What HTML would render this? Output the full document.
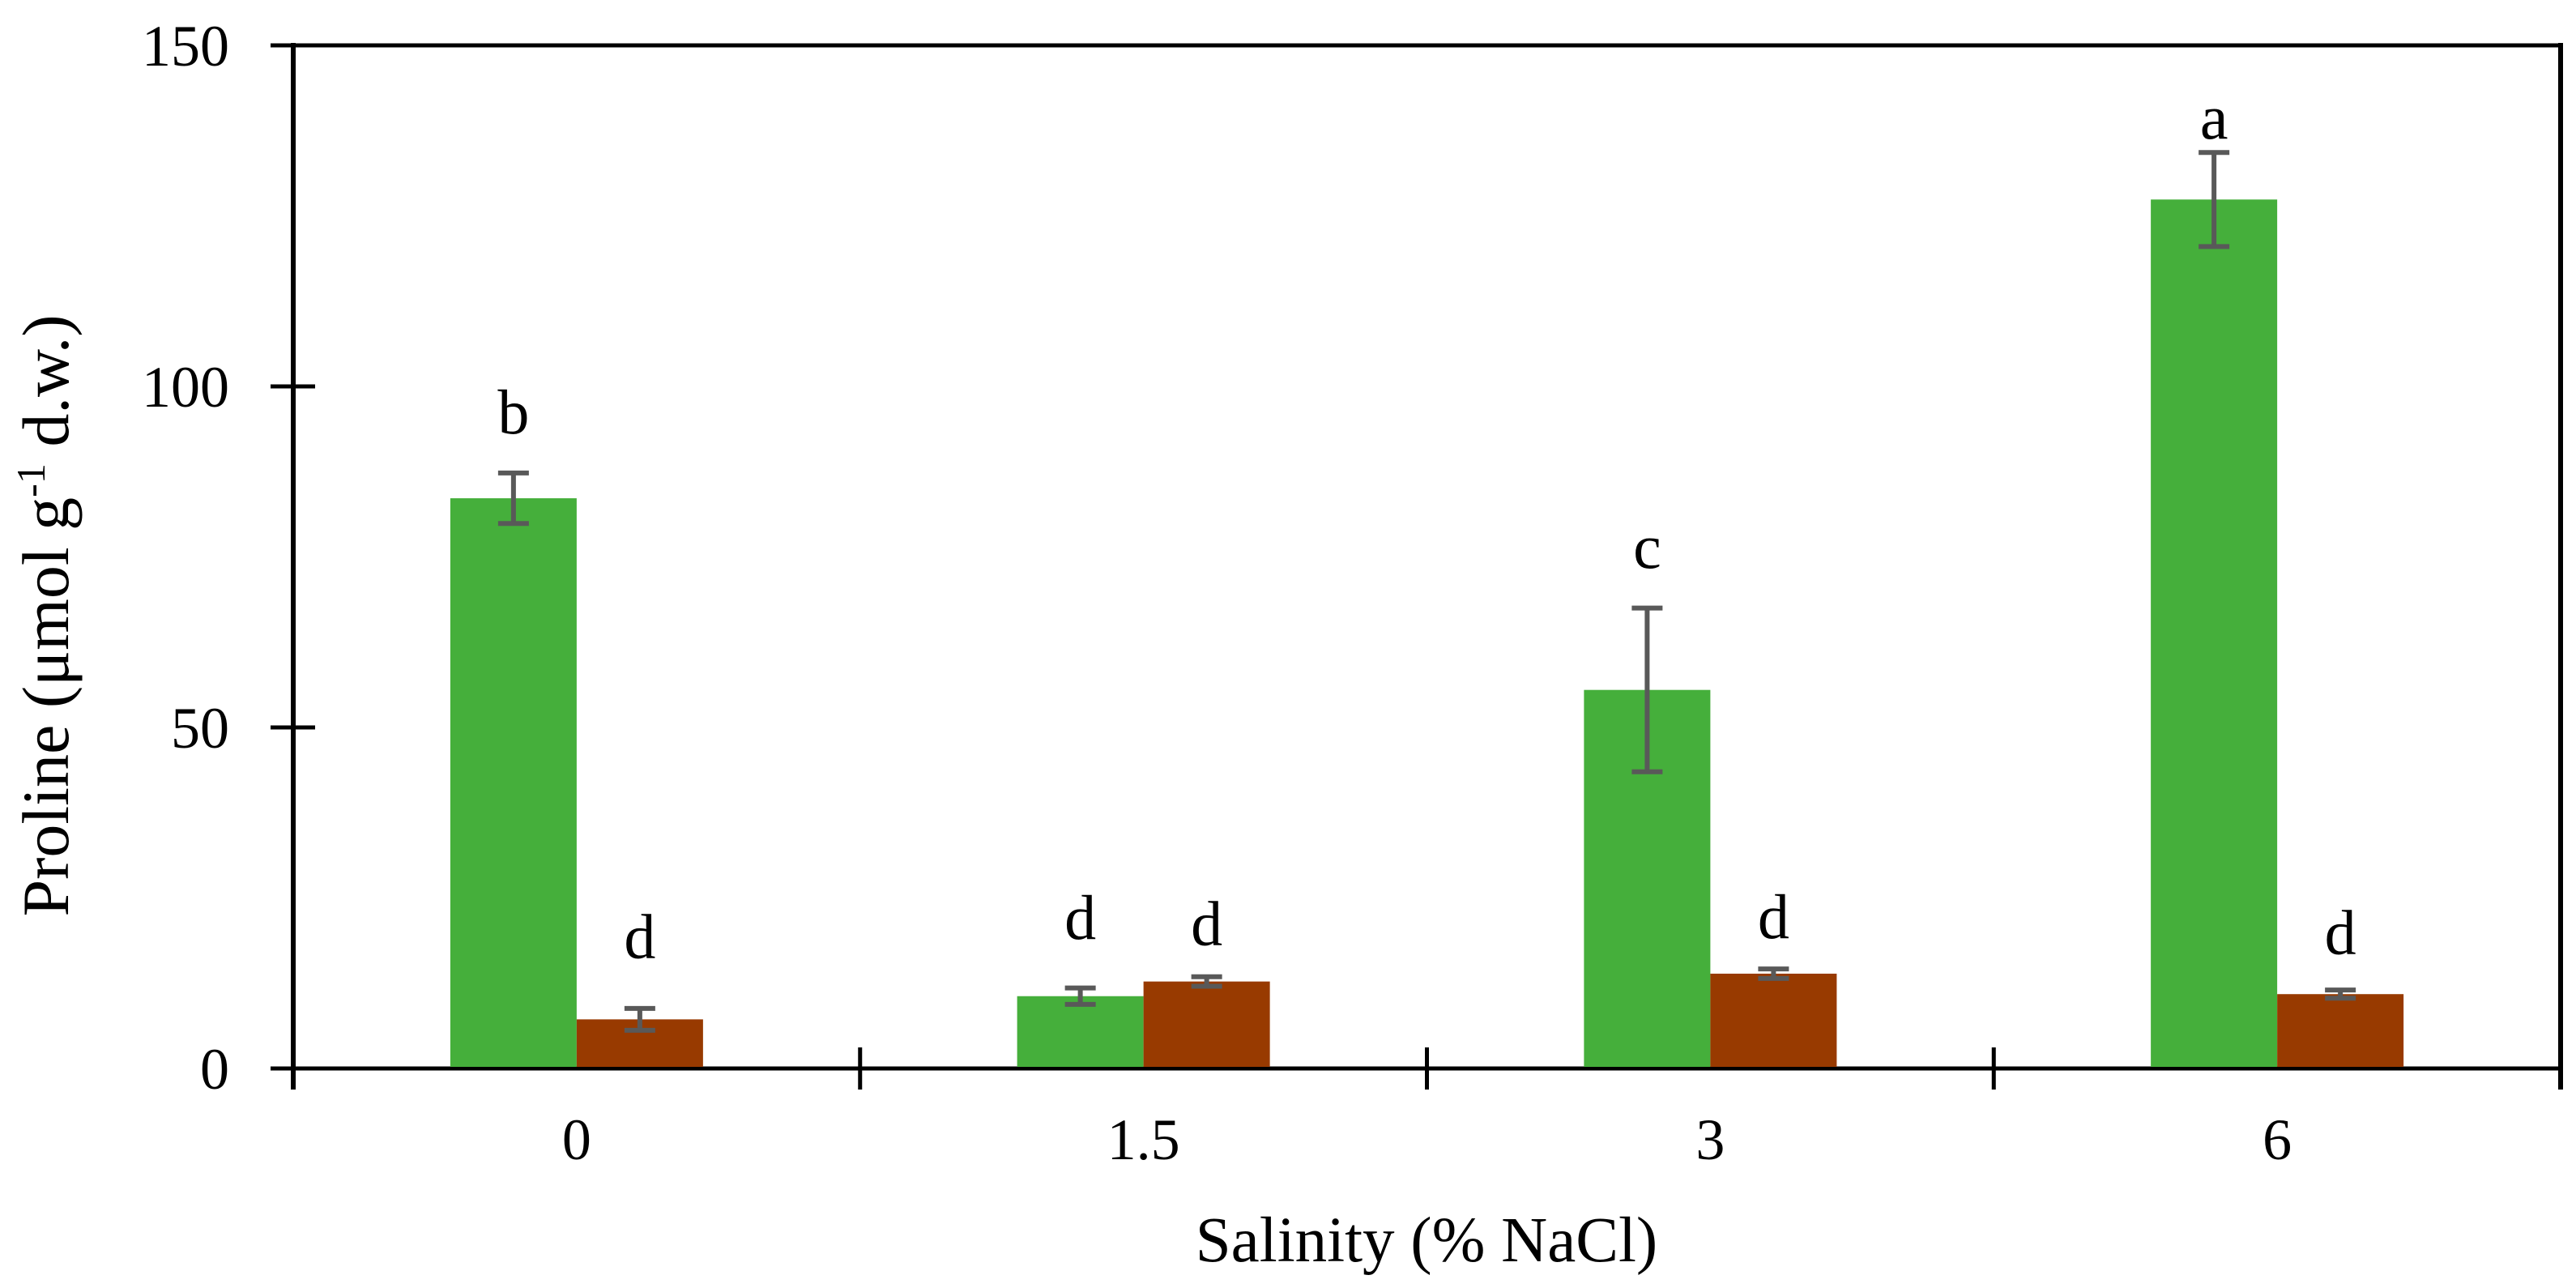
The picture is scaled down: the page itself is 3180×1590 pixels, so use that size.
<!DOCTYPE html>
<html><head><meta charset="utf-8"><style>
html,body{margin:0;padding:0;background:#fff;}
svg{display:block;font-family:"Liberation Serif",serif;}
</style></head><body>
<svg id="chart" width="3180" height="1590" viewBox="0 0 3180 1590" xmlns="http://www.w3.org/2000/svg">
<g id="axes"></g>
<g id="bars"></g>
<g id="labels"></g>
<text transform="translate(84,760) rotate(-90)" text-anchor="middle" font-size="82">Proline (μmol g<tspan font-size="50" dy="-29">-1</tspan><tspan dy="29"> d.w.)</tspan></text>
<text x="1761" y="1557" text-anchor="middle" font-size="79">Salinity (% NaCl)</text>
</svg>
<script>
const categories = ["0", "1.5", "3", "6"];
const greenValues = [83.6, 10.6, 55.5, 127.4];
const greenErrors = [3.7, 1.2, 12, 6.9];
const brownValues = [7.2, 12.75, 13.9, 10.9];
const brownErrors = [1.6, 0.7, 0.7, 0.6];
const greenLetters = ["b", "d", "c", "a"];
const brownLetters = ["d", "d", "d", "d"];
const greenLetterAt = [95.5, 21.4, 75.8, 138.7];
const brownLetterAt = [18.6, 20.5, 21.5, 19.2];
const yTicks = [0, 50, 100, 150];

const NS = "http://www.w3.org/2000/svg";
const X0 = 362, X1 = 3161, Y0 = 1319, Y1 = 56, YMAX = 150;
const groupW = (X1 - X0) / categories.length;
const barW = 156;
function yScale(v){ return Y0 - (v / YMAX) * (Y0 - Y1); }
function xCenter(i){ return X0 + groupW * (i + 0.5); }
function mk(tag, attrs, parent){
  const e = document.createElementNS(NS, tag);
  for (const k in attrs) e.setAttribute(k, attrs[k]);
  parent.appendChild(e);
  return e;
}
const axes = document.getElementById('axes');
const bars = document.getElementById('bars');
const labels = document.getElementById('labels');

let l = mk('line', {x1:X0, y1:Y1-3, x2:X0, y2:Y0+26, stroke:'#000', 'stroke-width':6}, axes);


l = mk('line', {x1:X1, y1:Y1-3, x2:X1, y2:Y0+26, stroke:'#000', 'stroke-width':6}, axes);


l = mk('line', {x1:X0-28, y1:Y0, x2:X1+3, y2:Y0, stroke:'#000', 'stroke-width':5}, axes);


l = mk('line', {x1:X0-28, y1:Y1, x2:X1+3, y2:Y1, stroke:'#000', 'stroke-width':5}, axes);



yTicks.forEach(function(t){
  const y = yScale(t);
  const tk = mk('line', {x1:X0-28, y1:y, x2:X0+27, y2:y, stroke:'#000', 'stroke-width':5}, axes);
  
  
  const tx = mk('text', {x:283, y:y+25, 'text-anchor':'end', 'font-size':72}, axes);
  
  
  tx.textContent = String(t);
});
for (let i = 1; i < categories.length; i++){
  const x = X0 + groupW * i;
  const tk = mk('line', {x1:x, y1:Y0-26, x2:x, y2:Y0+26, stroke:'#000', 'stroke-width':5}, axes);
  
  
}
categories.forEach(function(c, i){
  const tx = mk('text', {x:xCenter(i), y:1431, 'text-anchor':'middle', 'font-size':72}, axes);
  
  
  tx.textContent = c;
});

function drawSeries(vals, errs, letters, letterAt, color, offset, nm){
  vals.forEach(function(v, i){
    const cx = xCenter(i) + offset * barW;
    const x = cx - barW / 2;
    const r = mk('rect', {x:x, y:yScale(v), width:barW, height:Y0 - 2 - yScale(v), fill:color}, bars);
    
    
    const eg = mk('g', {stroke:'#595959', 'stroke-width':6}, bars);
    
    
    const yt = yScale(v + errs[i]), yb = yScale(v - errs[i]);
    mk('line', {x1:cx, y1:yt, x2:cx, y2:yb}, eg);
    mk('line', {x1:cx-19, y1:yt, x2:cx+19, y2:yt}, eg);
    mk('line', {x1:cx-19, y1:yb, x2:cx+19, y2:yb}, eg);
    const t = mk('text', {x:cx, y:yScale(letterAt[i]) + 20, 'text-anchor':'middle', 'font-size':78}, labels);
    
    
    t.textContent = letters[i];
  });
}
drawSeries(greenValues, greenErrors, greenLetters, greenLetterAt, '#45AF3B', -0.5, 'green');
drawSeries(brownValues, brownErrors, brownLetters, brownLetterAt, '#983A00', 0.5, 'brown');
</script>
</body></html>
